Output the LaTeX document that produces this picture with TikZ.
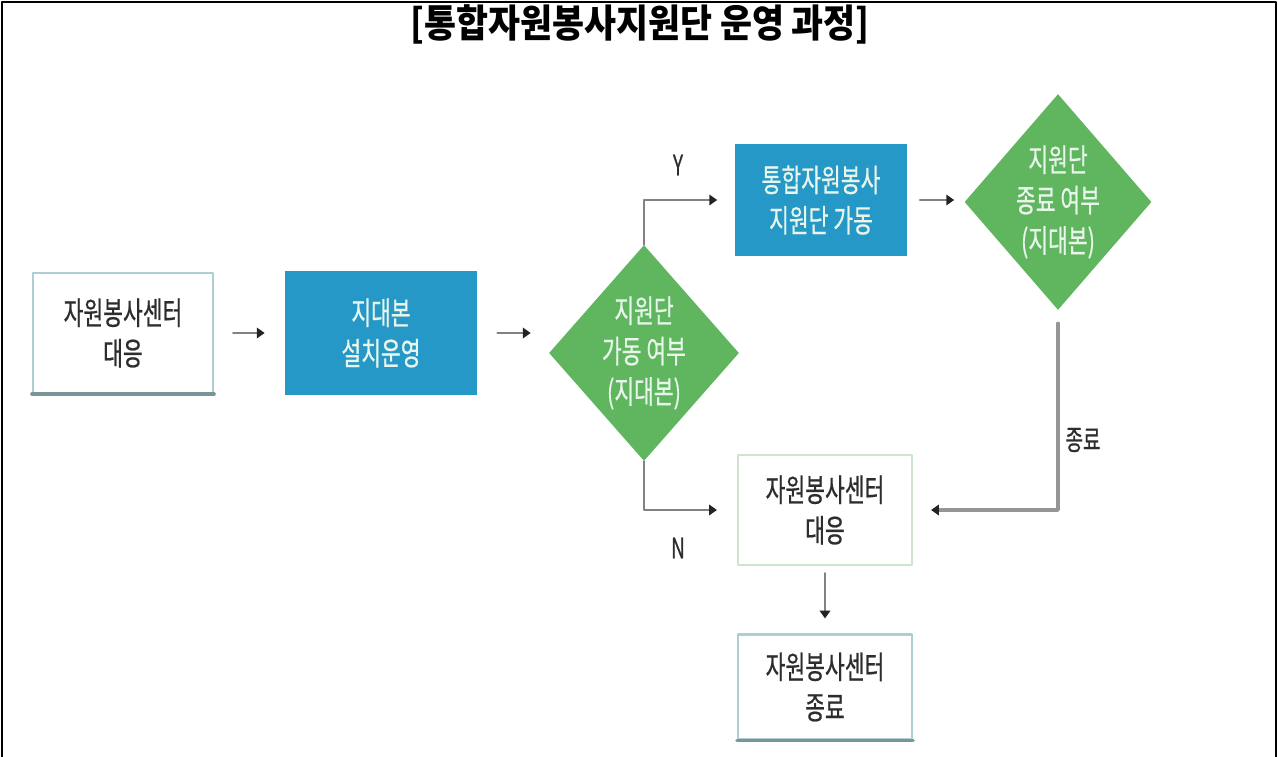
\documentclass[tikz,border=0pt]{standalone}
\usepackage{fontspec}
\usetikzlibrary{shapes.geometric,arrows.meta}
\newfontfamily\kr[FakeStretch=0.68,FakeBold=0.6]{Noto Sans CJK KR}
\newfontfamily\krtitle[FakeStretch=0.9]{Noto Sans CJK KR}
\definecolor{boxblue}{RGB}{38,152,199}
\definecolor{dgreen}{RGB}{95,182,95}
\definecolor{lighttxt}{RGB}{232,245,235}
\definecolor{darktxt}{RGB}{45,45,45}
\definecolor{flowgray}{RGB}{130,130,130}
\definecolor{tipgray}{RGB}{35,35,35}
\definecolor{lineblue}{RGB}{175,205,212}
\definecolor{linegreen}{RGB}{205,228,205}
\definecolor{linedark}{RGB}{120,150,152}
\begin{document}
\begin{tikzpicture}[x=0.02cm, y=-0.02cm, line join=round, line cap=round,
		>={Triangle[length=4.5pt,width=6pt,color=tipgray]},
		boxtxt/.style={align=center, font=\kr\fontsize{18}{23}\selectfont, inner sep=0pt},
		whitebox/.style={boxtxt, draw=#1, line width=1.2pt, fill=white, text=darktxt},
		bluebox/.style={boxtxt, fill=boxblue, text=lighttxt},
		decision/.style={diamond, fill=dgreen, inner sep=0pt, minimum width=3.8cm, minimum height=4.32cm},
		dtext/.style={boxtxt, text=lighttxt},
		flow/.style={draw=flowgray, line width=1.1pt, ->},
		tag/.style={font=\kr\fontsize{16}{18}\selectfont, text=darktxt}]
	\useasboundingbox (0,0) rectangle (1278,757);
	% bounding frame
	\draw[line width=1.3pt] (2,757) -- (2,2) -- (1276,2) -- (1276,757);
	\node[font=\krtitle\bfseries\fontsize{22}{26}\selectfont] (title) at (640,24) {[통합자원봉사지원단 운영 과정]};
	
	% nodes
	\node[whitebox=lineblue, minimum width=3.6cm, minimum height=2.4cm] (b1) at (123,333) {자원봉사센터\\대응};
	\node[bluebox, minimum width=3.84cm, minimum height=2.48cm] (b2) at (381,333) {지대본\\설치운영};
	\node[decision, label={[dtext]center:{지원단\\가동 여부\\(지대본)}}] (d1) at (644,353) {};
	\node[bluebox, minimum width=3.46cm, minimum height=2.26cm] (b3) at (821,200) {통합자원봉사\\지원단 가동};
	\node[decision, minimum width=3.74cm, label={[dtext]center:{지원단\\종료 여부\\(지대본)}}] (d2) at (1058,202) {};
	\node[whitebox=linegreen, minimum width=3.48cm, minimum height=2.2cm] (b4) at (825,510) {자원봉사센터\\대응};
	\node[whitebox=lineblue, minimum width=3.48cm, minimum height=2.1cm] (b5) at (825,687) {자원봉사센터\\종료};
	\draw[linedark, line width=2pt] (b1.south west) -- (b1.south east);
	\draw[linedark, line width=2pt] (b5.south west) -- (b5.south east);
	
	% connectors
	\draw[flow, shorten <=0.38cm, shorten >=0.4cm] (b1) -- (b2);
	\draw[flow, shorten <=0.4cm, shorten >=0.36cm] (b2.east) -- (b2.east -| d1.west);
	\draw[flow, shorten >=0.34cm] (d1.north) |- (b3.west);
	\draw[flow, shorten <=0.24cm, shorten >=0.2cm] (b3.east) -- (b3.east -| d2.west);
	\draw[flow, line width=2pt, draw=flowgray!85, shorten <=0.26cm, shorten >=0.36cm] (d2.south) |- (b4.east);
	\draw[flow, shorten >=0.4cm] (d1.south) |- (b4.west);
	\draw[flow, shorten <=0.14cm, shorten >=0.3cm] (b4) -- (b5);
	
	\node[tag] (yes) at (678,165) {Y};
	\node[tag] (no) at (678,548) {N};
	\node[tag] (stop) at (1083,440) {종료};
\end{tikzpicture}
\end{document}
